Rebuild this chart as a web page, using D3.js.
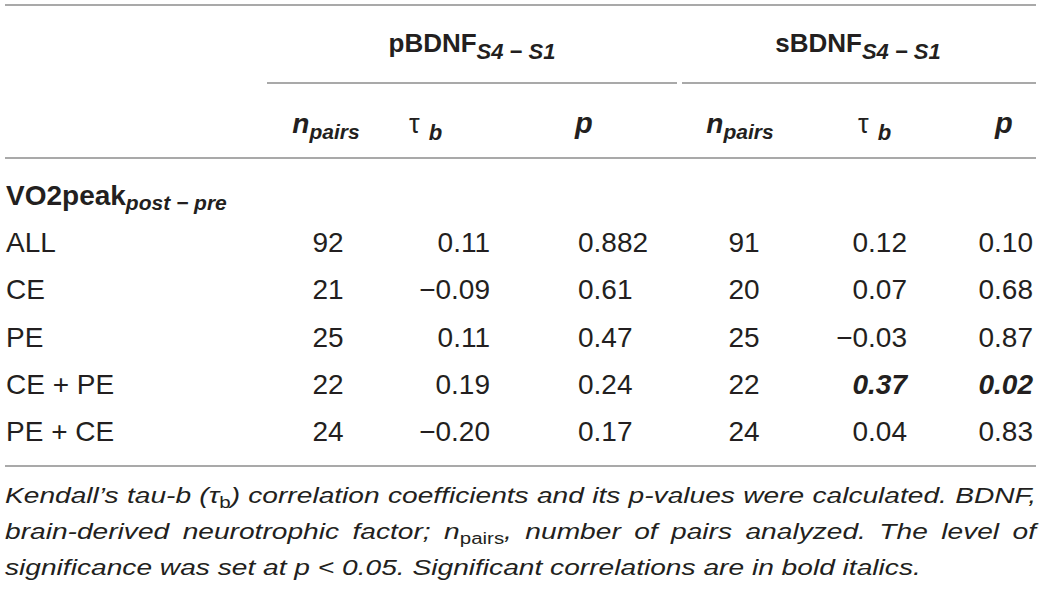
<!DOCTYPE html>
<html>
<head>
<meta charset="utf-8">
<script src="https://cdn.jsdelivr.net/npm/d3@7"></script>
<style>
  html, body { margin: 0; padding: 0; background: #fff; }
  svg text { font-family: "Liberation Sans", Arial, sans-serif; fill: #231f20; }
</style>
</head>
<body>
<svg id="tableSvg" width="1043" height="589"></svg>
<script>
const groups = ["pBDNF", "sBDNF"];
const groupSub = "S4 \u2212 S1";
const rowTitle = "VO2peak";
const rowTitleSub = "post \u2212 pre";
const rowLabels = ["ALL", "CE", "PE", "CE + PE", "PE + CE"];

const pNpairs = [92, 21, 25, 22, 24];
const pTau = [0.11, -0.09, 0.11, 0.19, -0.20];
const pP = ["0.882", "0.61", "0.47", "0.24", "0.17"];

const sNpairs = [91, 20, 25, 22, 24];
const sTau = [0.12, 0.07, -0.03, 0.37, 0.04];
const sP = ["0.10", "0.68", "0.87", "0.02", "0.83"];

const footLines = [
    [["Kendall\u2019s tau-b (\u03c4", ""], ["b", "sub"], [") correlation coefficients and its p-values were calculated. BDNF,", ""]],
    [["brain-derived neurotrophic factor; n", ""], ["pairs", "sub"], [", number of pairs analyzed. The level of", ""]],
    [["significance was set at p < 0.05. Significant correlations are in bold italics.", ""]]
];

const series = [
    { n: pNpairs, tau: pTau, p: pP },
    { n: sNpairs, tau: sTau, p: sP }
];

function drawTable() {
    const svg = d3.select("#tableSvg");
    const left = 5, right = 1036;
    const fmtTau = d3.format(".2f");

    // column layout per group
    const layout = [
        { span: [267, 677], head: 472, nX: 328, tauX: 490, tauAnchor: "end", pX: 578, pAnchor: "start",
          hN: 326, hTau: 409, hP: 575 },
        { span: [682, right], head: 858, nX: 744, tauX: 907, tauAnchor: "end", pX: 1033, pAnchor: "end",
          hN: 740, hTau: 858, hP: 995 }
    ];

    const y = d3.scalePoint().domain(rowLabels).range([252, 441]);

    const rule = (x1, x2, yy) => svg.append("line")
        .attr("x1", x1).attr("x2", x2).attr("y1", yy).attr("y2", yy)
        .attr("stroke", "#8c8c8c").attr("stroke-width", 1.5);

    rule(left, right, 5);
    rule(left, right, 158);
    rule(left, right, 466);

    // group headers
    groups.forEach((g, i) => {
        const L = layout[i];
        const t = svg.append("text")
            .attr("x", L.head).attr("y", 52)
            .attr("text-anchor", "middle")
            .style("font-size", "26px").style("font-weight", "bold");
        t.append("tspan").text(g);
        t.append("tspan").attr("dy", 7).style("font-size", "22px").style("font-style", "italic").text(groupSub);
        rule(L.span[0], L.span[1], 83);

        // column headers
        const hn = svg.append("text").attr("x", L.hN).attr("y", 133).attr("text-anchor", "middle")
            .style("font-size", "28px").style("font-weight", "bold").style("font-style", "italic");
        hn.append("tspan").text("n");
        hn.append("tspan").attr("dy", 6).style("font-size", "21px").text("pairs");

        const ht = svg.append("text").attr("x", L.hTau).attr("y", 133).style("font-size", "27px");
        ht.append("tspan").text("\u03c4");
        ht.append("tspan").attr("dx", 9).attr("dy", 7).style("font-size", "22px")
            .style("font-weight", "bold").style("font-style", "italic").text("b");

        svg.append("text").attr("x", L.hP).attr("y", 133)
            .style("font-size", "29px").style("font-weight", "bold").style("font-style", "italic")
            .text("p");
    });

    // row title
    const rt = svg.append("text").attr("x", left + 1).attr("y", 205)
        .style("font-size", "28px").style("font-weight", "bold");
    rt.append("tspan").text(rowTitle);
    rt.append("tspan").attr("dy", 5).style("font-size", "21px").style("font-style", "italic").text(rowTitleSub);

    // row labels
    svg.selectAll(".row-label")
        .data(rowLabels)
        .enter()
        .append("text")
        .attr("class", "row-label")
        .attr("x", left + 1)
        .attr("y", d => y(d))
        .style("font-size", "28px")
        .text(d => d);

    // values
    series.forEach((s, i) => {
        const L = layout[i];
        const sig = s.p.map(v => parseFloat(v) < 0.05);
        const cells = rowLabels.map((r, j) => [
            { x: L.nX, anchor: "middle", text: String(s.n[j]), bold: false, row: r },
            { x: L.tauX, anchor: L.tauAnchor, text: fmtTau(s.tau[j]), bold: sig[j], row: r },
            { x: L.pX, anchor: L.pAnchor, text: s.p[j], bold: sig[j], row: r }
        ]).flat();

        svg.selectAll(".cell-" + i)
            .data(cells)
            .enter()
            .append("text")
            .attr("class", "cell-" + i)
            .attr("x", d => d.x)
            .attr("y", d => y(d.row))
            .attr("text-anchor", d => d.anchor)
            .style("font-size", "28px")
            .style("font-weight", d => d.bold ? "bold" : "normal")
            .style("font-style", d => d.bold ? "italic" : "normal")
            .text(d => d.text);
    });

    // footnote: slightly widened type, justified lines
    const footY = [503, 539, 575];
    const sx = 1.28;
    footLines.forEach((parts, k) => {
        const t = svg.append("text")
            .attr("transform", `translate(${left},${footY[k]}) scale(${sx},1)`)
            .style("font-size", "22px").style("font-style", "italic");
        parts.forEach(([txt, kind], m) => {
            const ts = t.append("tspan").text(txt);
            if (kind === "sub") {
                ts.attr("dy", 5).style("font-size", "16px").style("font-style", "normal");
            } else if (m > 0) {
                ts.attr("dy", -5);
            }
        });
        if (k < footLines.length - 1) {
            const len = t.node().getComputedTextLength();
            const spaces = parts.map(p => p[0]).join("").split(" ").length - 1;
            t.style("word-spacing", (((right - left) / sx - len) / spaces) + "px");
        }
    });
}

drawTable();
</script>
</body>
</html>
